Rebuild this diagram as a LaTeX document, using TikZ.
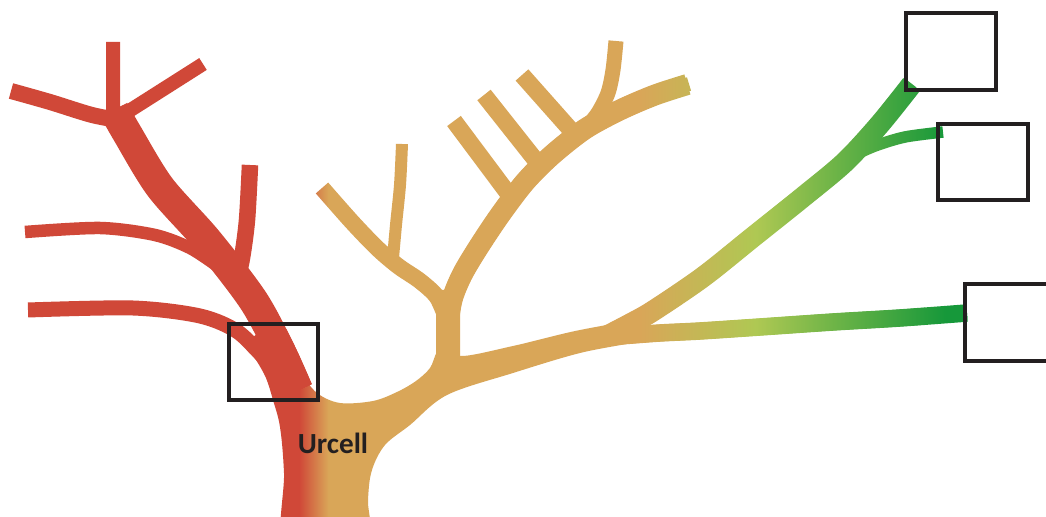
\documentclass[tikz,border=0pt]{standalone}
\usepackage{fontspec}
\setmainfont{Carlito}
\usepackage{tikz}
\usetikzlibrary{fadings, positioning}
\definecolor{colRed}   {HTML}{D04838}
\definecolor{colOchre} {HTML}{D9A658}
\definecolor{colLime}  {HTML}{AFC853}
\definecolor{colLeaf}  {HTML}{6DB447}
\definecolor{colForest}{HTML}{16983A}
\definecolor{colInk}   {HTML}{231F20}
% left to right: red crown, ochre middle, green twigs
\pgfdeclarehorizontalshading{treeshade}{100bp}{%
  color(0bp)=(colRed); color(39.3bp)=(colRed);
  color(40.7bp)=(colOchre); color(55.6bp)=(colOchre);
  color(61.1bp)=(colLime); color(64.9bp)=(colLeaf);
  color(70.2bp)=(colForest); color(100bp)=(colForest)}
\tikzset{
  limb/.style={draw=white, line width=#1},
  slot/.style={
    draw=colInk, line width=0.38mm, inner sep=0pt,
    minimum width=8.97mm, minimum height=7.67mm
  },
  tag/.style={font=\fontsize{8.3}{10}\selectfont\bfseries, text=colInk}
}
% tapered limb: #1 options, #2/#3 start/end width (mm), #4 length (mm), #5 points
\newcommand\taperlimb[5]{%
  \foreach \k [evaluate=\k as \twid using #2-(#2-#3)*\k/8,
               evaluate=\k as \tlen using #4*(8-\k)/8] in {0,...,7}
    \draw[#1, line width=\twid mm, dash pattern=on \tlen mm off 300mm]
      plot[smooth] coordinates {#5};
  \draw[#1, line width=#3mm] plot[smooth] coordinates {#5};}
% silhouette of the tree, used as a mask for the shading
\begin{tikzfadingfrompicture}[name=treemask, x=0.1mm, y=-0.1mm]
  \useasboundingbox (0,0) rectangle (1046,517);
  % trunk and main limb up to the fork
  \fill[white] plot[smooth cycle, tension=0.55] coordinates {
    (286,560) (284,473) (280,427) (273,400) (266,378) (256,360) (246,347)
    (262,333) (288,352) (301,373) (317,393) (340,403) (373,401) (397,392)
    (416,381) (430,368) (437,352) (448,342) (460,356) (513,346) (580,330)
    (640,321) (652,332) (640,341) (580,353) (513,373) (447,395) (410,425)
    (385,445) (372,470) (368,500) (367,560)};
  % red crown
  \taperlimb{draw=white}{3.0}{2.1}{33.7}{(298,390) (280,350) (253,300) (207,240) (160,187) (127,133) (114,110)}
  \draw[limb=1.4mm] (113,118) -- (113,42);
  \draw[limb=1.6mm] plot[smooth] coordinates {(124,121) (92,115) (50,102) (11,91)};
  \draw[limb=1.4mm] (118,118) -- (203,64);
  \draw[limb=1.65mm] plot[smooth] coordinates {(250,165) (247,220) (242,258) (236,285)};
  \draw[limb=1.25mm] plot[smooth] coordinates {(25,232) (100,228) (155,235) (190,248) (216,265)};
  \draw[limb=1.5mm] plot[smooth] coordinates {(28,310) (133,308) (200,316) (238,332) (268,362)};
  % ochre crown
  \draw[limb=2.4mm] (448,385) -- (448,290);
  \taperlimb{draw=white}{2.1}{1.4}{41}{(448,378) (448,330) (452,300) (462,275) (478,248) (500,215) (525,182) (552,155) (585,129) (620,110) (655,95) (689,84)}
  \draw[limb=1.65mm] plot[smooth] coordinates {(447,320) (437,297) (420,281) (398,266) (377,248) (352,222) (322,188)};
  \draw[limb=1.2mm] plot[smooth] coordinates {(393,258) (396,225) (400,185) (402,144)};
  \draw[limb=1.7mm] (454,121) -- (510,196);
  \draw[limb=1.7mm] (484,95) -- (541,167);
  \draw[limb=1.7mm] (522,75) -- (577,137);
  \draw[limb=1.5mm] plot[smooth] coordinates {(616,41) (613,70) (608,93) (598,113) (586,128)};
  % green twigs
  \taperlimb{draw=white}{2.1}{1.15}{40}{(605,337) (630,324) (653,311) (703,277) (753,237) (803,197) (845,162) (880,124) (912,84)}
  \draw[limb=1.15mm] plot[smooth] coordinates {(848,158) (875,146) (905,137) (943,132)};
  \taperlimb{draw=white}{1.75}{1.25}{35}{(620,336) (660,333) (700,331) (760,327) (833,322) (900,318) (967,313)}
\end{tikzfadingfrompicture}

\begin{document}
\begin{tikzpicture}[x=0.1mm, y=-0.1mm]
  \useasboundingbox (0,0) rectangle (1046,517);
  \clip (0,0) rectangle (1046,517);
  \fill[white] (0,0) rectangle (1046,517);
  \shade[shading=treeshade, path fading=treemask, fit fading=false,
         fading transform={shift={(523,258.5)}}]
    (0,0) rectangle (1046,517);
  % keep the red limb red down to the trunk
  \begin{scope}
    \clip (270,330) rectangle (340,396);
    \taperlimb{draw=colRed}{3.0}{2.1}{33.7}{(298,390) (280,350) (253,300) (207,240) (160,187) (127,133) (114,110)}
  \end{scope}
  \node[slot] (root) at (273.5,362)  {};
  \node[slot] (tipA) at (951,51.3)   {};
  \node[slot] (tipB) at (983,162)    {};
  \node[slot] (tipC) at (1010,322.5) {};
  \node[tag] (urcell) at (333,443) {Urcell};
\end{tikzpicture}
\end{document}
